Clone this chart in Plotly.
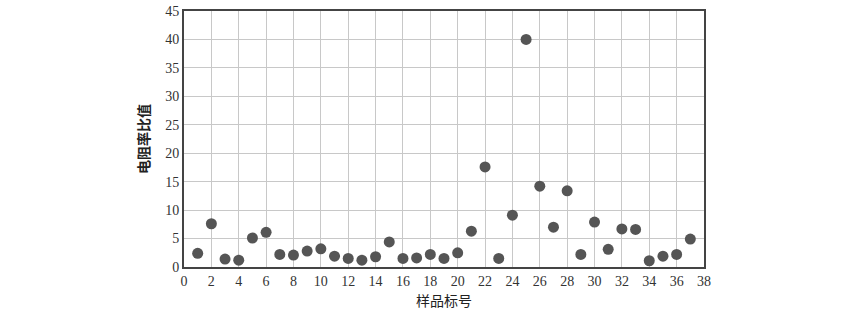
import plotly.graph_objects as go

samples = list(range(1, 38))
ratios = [2.4, 7.6, 1.4, 1.2, 5.1, 6.1, 2.2, 2.1, 2.8, 3.2,
          1.9, 1.5, 1.2, 1.8, 4.4, 1.5, 1.6, 2.2, 1.5, 2.5,
          6.3, 17.6, 1.5, 9.1, 40.0, 14.2, 7.0, 13.4, 2.2, 7.9,
          3.1, 6.7, 6.6, 1.1, 1.9, 2.2, 4.9]

fig = go.Figure(go.Scatter(
    x=samples, y=ratios, mode="markers",
    marker=dict(color="#555555", size=11, line=dict(width=0)),
))

axis_common = dict(
    showgrid=True, gridcolor="#c8c8c8", gridwidth=1,
    showline=True, linecolor="#444444", linewidth=2, mirror=True,
    ticks="", zeroline=False, automargin=False,
    tickfont=dict(family="Liberation Serif", size=14, color="#333333"),
)

fig.update_layout(
    width=850, height=312,
    margin=dict(l=184, r=146, t=11, b=45),
    paper_bgcolor="white", plot_bgcolor="white",
    showlegend=False,
    xaxis=dict(range=[0, 38], dtick=2, tick0=0,
               title=dict(text="样品标号", standoff=8,
                          font=dict(family="Noto Sans CJK SC", size=14, color="#222222")),
               **axis_common),
    yaxis=dict(range=[0, 45], dtick=5, tick0=0,
               title=dict(text="<b>电阻率比值</b>", standoff=12,
                          font=dict(family="Noto Sans CJK SC", size=14, color="#222222")),
               **axis_common),
)

fig.write_html("out.html")
